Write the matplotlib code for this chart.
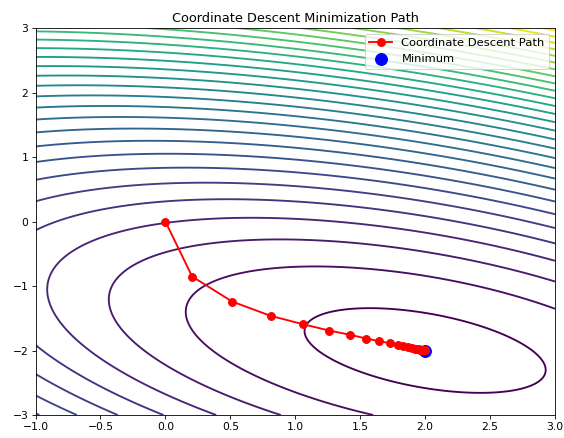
import numpy as np
import matplotlib
matplotlib.use('Agg')
from matplotlib import pyplot as plt

# coordinate descent iterates
path_x = [0.0, 0.206, 0.514, 0.81, 1.057, 1.26, 1.424, 1.547, 1.648, 1.73,
          1.79, 1.833, 1.871, 1.90, 1.922, 1.94, 1.953, 1.964, 1.972, 1.978,
          1.983, 1.987, 1.99, 1.993, 1.995, 1.997, 1.998]
path_y = [0.0, -0.853, -1.241, -1.462, -1.591, -1.69, -1.757, -1.814, -1.856, -1.887,
          -1.912, -1.933, -1.949, -1.96, -1.969, -1.976, -1.981, -1.985, -1.988, -1.991,
          -1.993, -1.995, -1.996, -1.997, -1.998, -1.999, -1.999]
min_x, min_y = 2.0, -2.0

# quadratic bowl fitted to the contour shapes
a_xx, a_xy, a_yy = 0.5, 0.65, 1.0
lev_start, lev_step = 0.34, 1.0

x = np.linspace(-1, 3, 400)
y = np.linspace(-3, 3, 400)
X, Y = np.meshgrid(x, y)
dX, dY = X - min_x, Y - min_y
Z = a_xx*dX**2 + a_xy*dX*dY + a_yy*dY**2
levels = np.arange(lev_start, Z.max(), lev_step)

plt.rcParams['xtick.labelsize'] = 10.3
plt.rcParams['ytick.labelsize'] = 10.3

dpi = 75
fig = plt.figure(figsize=(564/dpi, 438/dpi), dpi=dpi)
ax = fig.add_axes([0.063, 0.0525, 0.921, 0.8835])
ax.contour(X, Y, Z, levels=levels, cmap='viridis', linewidths=1.8)
ax.plot(path_x, path_y, 'ro-', lw=1.8, ms=7.5, label='Coordinate Descent Path')
ax.scatter(min_x, min_y, color='blue', s=130, label='Minimum')
ax.set_xlim(-1, 3)
ax.set_ylim(-3, 3)
ax.set_title('Coordinate Descent Minimization Path', fontsize=12.4)
ax.legend(loc='upper right', fontsize=11)
fig.savefig('out.png', dpi=dpi)
